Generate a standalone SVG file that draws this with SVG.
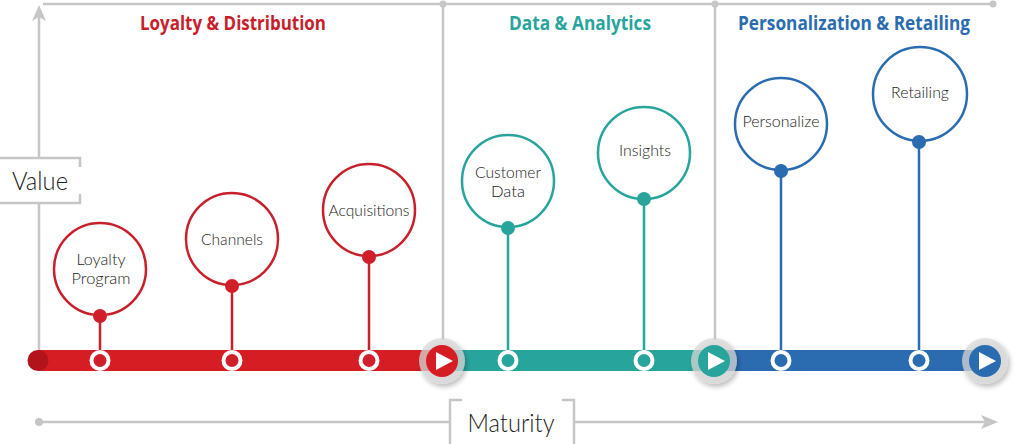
<svg xmlns="http://www.w3.org/2000/svg" width="1024" height="444" viewBox="0 0 1024 444">
<defs>
<style>
.axis{stroke:#c6c6c6;stroke-width:2.5;fill:none}
.adot{fill:#c6c6c6}
.title{font-family:"Open Sans","Noto Sans",sans-serif;font-weight:bold;font-size:19px;text-anchor:middle}
.lbl{font-family:Lato,"Open Sans","Noto Sans",sans-serif;font-weight:300;font-size:16px;fill:#222;text-anchor:middle}
.lbl2{font-size:15px}
.big{font-family:Lato,"Open Sans","Noto Sans",sans-serif;font-weight:300;font-size:25px;fill:#222;text-anchor:middle}
.ring{fill:#fff;stroke-width:2.5}
.stem{stroke-width:2.5}
.bdot{stroke:#fff;stroke-width:4}
.red .ring,.red .stem{stroke:#c8202b}
.red .dot,.red .bdot{fill:#d01f2a}
.teal .ring,.teal .stem{stroke:#27a59d}
.teal .dot,.teal .bdot{fill:#27a59d}
.blue .ring,.blue .stem{stroke:#2b6cb0}
.blue .dot,.blue .bdot{fill:#2b6cb0}
.halo{fill:#d8d8d8;fill-opacity:0.72}
</style>
<filter id="sh" x="-40%" y="-40%" width="190%" height="190%">
<feDropShadow dx="2" dy="3" stdDeviation="2.5" flood-color="#000" flood-opacity="0.35"/>
</filter>
</defs>

<g id="axes">
<line class="axis" x1="43" y1="4" x2="993" y2="4"/>
<circle class="adot" cx="443" cy="4" r="3.5"/>
<circle class="adot" cx="715" cy="4" r="3.5"/>
<circle class="adot" cx="993" cy="4" r="3.5"/>
<line class="axis" x1="443" y1="4" x2="443" y2="340"/>
<line class="axis" x1="715" y1="4" x2="715" y2="340"/>
<line class="axis" x1="39" y1="16" x2="39" y2="158"/>
<line class="axis" x1="39" y1="203" x2="39" y2="352"/>
<path d="M39 5 L46 21 L39 17 L32 21 Z" fill="#c6c6c6"/>
<path class="axis" d="M0 158 H80 V167 M80 194 V203 H0" stroke-width="2"/>
<text class="big" x="40" y="190" textLength="56" lengthAdjust="spacingAndGlyphs">Value</text>
<line class="axis" x1="39" y1="422" x2="450" y2="422"/>
<line class="axis" x1="574" y1="422" x2="985" y2="422"/>
<circle class="adot" cx="39" cy="422" r="4"/>
<path d="M998 422 L981 415 L985 422 L981 429 Z" fill="#c6c6c6"/>
<path class="axis" d="M462 400 H450 V444 M562 400 H574 V444" stroke-width="2"/>
<text class="big" x="511" y="432" textLength="87" lengthAdjust="spacingAndGlyphs">Maturity</text>
</g>

<g id="titles">
<text class="title" x="233" y="30" fill="#c8202b" textLength="186" lengthAdjust="spacingAndGlyphs">Loyalty &amp; Distribution</text>
<text class="title" x="580" y="30" fill="#27a59d" textLength="142" lengthAdjust="spacingAndGlyphs">Data &amp; Analytics</text>
<text class="title" x="854" y="30" fill="#2b6cb0" textLength="232" lengthAdjust="spacingAndGlyphs">Personalization &amp; Retailing</text>
</g>

<g id="bar">
<rect x="38" y="350" width="405" height="21" fill="#d71d24"/>
<circle cx="38" cy="360.5" r="10.5" fill="#b3141b"/>
<rect x="441" y="350" width="275" height="21" fill="#27a59d"/>
<rect x="714" y="350" width="272" height="21" fill="#2b6cb0"/>
</g>

<g id="connectors">
<g class="red">
<line class="stem" x1="100" y1="316" x2="100" y2="360"/>
<line class="stem" x1="232" y1="286" x2="232" y2="360"/>
<line class="stem" x1="369" y1="257" x2="369" y2="360"/>
</g>
<g class="teal">
<line class="stem" x1="508" y1="228" x2="508" y2="360"/>
<line class="stem" x1="644" y1="199" x2="644" y2="360"/>
</g>
<g class="blue">
<line class="stem" x1="781" y1="171" x2="781" y2="360"/>
<line class="stem" x1="919" y1="142" x2="919" y2="360"/>
</g>
</g>

<g id="node-loyalty-program" class="red">
<circle class="ring" cx="100" cy="269" r="46"/>
<circle class="dot" cx="100" cy="316" r="7"/>
<circle class="bdot" cx="100" cy="360.5" r="8.5"/>
<text class="lbl lbl2" x="101" y="265" textLength="49" lengthAdjust="spacingAndGlyphs">Loyalty</text>
<text class="lbl lbl2" x="101" y="284" textLength="59" lengthAdjust="spacingAndGlyphs">Program</text>
</g>
<g id="node-channels" class="red">
<circle class="ring" cx="232" cy="239" r="46"/>
<circle class="dot" cx="232" cy="286" r="7"/>
<circle class="bdot" cx="232" cy="360.5" r="8.5"/>
<text class="lbl" x="232" y="245" textLength="62" lengthAdjust="spacingAndGlyphs">Channels</text>
</g>
<g id="node-acquisitions" class="red">
<circle class="ring" cx="369" cy="210" r="46"/>
<circle class="dot" cx="369" cy="257" r="7"/>
<circle class="bdot" cx="369" cy="360.5" r="8.5"/>
<text class="lbl" x="369" y="216" textLength="81" lengthAdjust="spacingAndGlyphs">Acquisitions</text>
</g>
<g id="node-customer-data" class="teal">
<circle class="ring" cx="508" cy="181" r="46"/>
<circle class="dot" cx="508" cy="228" r="7"/>
<circle class="bdot" cx="508" cy="360.5" r="8.5"/>
<text class="lbl lbl2" x="508" y="178" textLength="66" lengthAdjust="spacingAndGlyphs">Customer</text>
<text class="lbl lbl2" x="508" y="197" textLength="34" lengthAdjust="spacingAndGlyphs">Data</text>
</g>
<g id="node-insights" class="teal">
<circle class="ring" cx="644" cy="153" r="46"/>
<circle class="dot" cx="644" cy="199" r="7"/>
<circle class="bdot" cx="644" cy="360.5" r="8.5"/>
<text class="lbl" x="645" y="156" textLength="52" lengthAdjust="spacingAndGlyphs">Insights</text>
</g>
<g id="node-personalize" class="blue">
<circle class="ring" cx="781" cy="124" r="46"/>
<circle class="dot" cx="781" cy="171" r="7"/>
<circle class="bdot" cx="781" cy="360.5" r="8.5"/>
<text class="lbl" x="781" y="127" textLength="77" lengthAdjust="spacingAndGlyphs">Personalize</text>
</g>
<g id="node-retailing" class="blue">
<circle class="ring" cx="920" cy="94" r="47"/>
<circle class="dot" cx="919" cy="142" r="7"/>
<circle class="bdot" cx="919" cy="360.5" r="8.5"/>
<text class="lbl" x="920" y="98" textLength="58" lengthAdjust="spacingAndGlyphs">Retailing</text>
</g>

<g id="play-red">
<circle class="halo" cx="442" cy="361" r="23" filter="url(#sh)"/>
<circle cx="442" cy="361" r="16" fill="#d71d24"/>
<path d="M436 352 L453 361 L436 370 Z" fill="#fff"/>
</g>
<g id="play-teal">
<circle class="halo" cx="714" cy="361" r="23" filter="url(#sh)"/>
<circle cx="714" cy="361" r="16" fill="#27a59d"/>
<path d="M708 352 L725 361 L708 370 Z" fill="#fff"/>
</g>
<g id="play-blue">
<circle class="halo" cx="985" cy="361" r="23" filter="url(#sh)"/>
<circle cx="985" cy="361" r="16" fill="#2b6cb0"/>
<path d="M979 352 L996 361 L979 370 Z" fill="#fff"/>
</g>
</svg>
